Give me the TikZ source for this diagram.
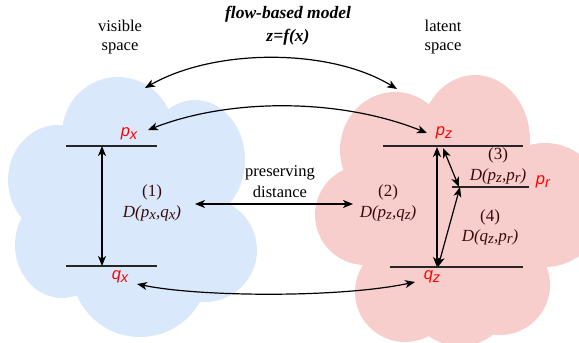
\documentclass[tikz,border=0pt]{standalone}
\usepackage{fontspec}
\setmainfont{Liberation Serif}
\newfontfamily\labsans{Liberation Sans}
\usetikzlibrary{arrows.meta}
\definecolor{cloudblue}{HTML}{DAE8FC}
\definecolor{cloudred}{HTML}{F8CECC}
\definecolor{labred}{HTML}{FF0000}
\definecolor{dred}{HTML}{3A0A0A}
\newcommand{\sbx}[1]{\raisebox{-0.3ex}{\scalebox{0.88}{#1}}}
\tikzset{
  txt/.style={inner sep=0pt, font=\fontsize{16.5}{19}\selectfont},
  ttl/.style={inner sep=0pt, font=\bfseries\itshape\fontsize{17.5}{20}\selectfont},
  ptlab/.style={inner sep=0pt, text=labred, font=\labsans\itshape\fontsize{16.5}{19}\selectfont},
  dlab/.style={inner sep=0pt, text=dred, font=\itshape\fontsize{17}{19}\selectfont},
  numlab/.style={inner sep=0pt, text=dred, font=\fontsize{17}{19}\selectfont},
  level/.style={line width=1.2pt, draw=black!85},
  arr/.style={line width=1.2pt, {Stealth[length=10pt,width=8pt,inset=2.8pt]}-{Stealth[length=10pt,width=8pt,inset=2.8pt]}},
}
\begin{document}
\begin{tikzpicture}[x=1pt,y=-1pt]
\useasboundingbox (0,0) rectangle (579,343);
\begin{scope}
\clip (0,0) rectangle (579,343);
% blue cloud
\fill[cloudblue] (118,134) ellipse [x radius=56, y radius=57];
\fill[cloudblue] (58,180) ellipse [x radius=50, y radius=55];
\fill[cloudblue] (62,245) ellipse [x radius=47, y radius=53];
\fill[cloudblue] (140,270) ellipse [x radius=68, y radius=67];
\fill[cloudblue] (195,160) ellipse [x radius=50, y radius=60];
\fill[cloudblue] (205,250) ellipse [x radius=52, y radius=52];
\fill[cloudblue] (130,205) ellipse [x radius=100, y radius=85];
% red cloud
\fill[cloudred] (395,150) ellipse [x radius=55, y radius=58];
\fill[cloudred] (475,140) ellipse [x radius=55, y radius=65];
\fill[cloudred] (545,205) ellipse [x radius=60, y radius=62];
\fill[cloudred] (365,215) ellipse [x radius=50, y radius=50];
\fill[cloudred] (405,292) ellipse [x radius=50, y radius=50];
\fill[cloudred] (460,290) ellipse [x radius=55, y radius=56];
\fill[cloudred] (500,285) ellipse [x radius=50, y radius=50];
\fill[cloudred] (450,220) ellipse [x radius=100, y radius=80];
\end{scope}

% titles
\node[txt] (vis1) at (120,26) {visible};
\node[txt] (vis2) at (120,48) {space};
\node[txt] (lat1) at (443,26) {latent};
\node[txt] (lat2) at (443,48) {space};
\node[ttl] (fbm) at (288,14) {flow-based model};
\node[ttl] (zfx) at (288,37) {z=f(x)};

% left levels
\coordinate (lxa) at (66,146);
\coordinate (lxb) at (157,146);
\coordinate (lqa) at (66,266);
\coordinate (lqb) at (157,266);
\draw[level] (lxa) -- (lxb);
\draw[level] (lqa) -- (lqb);
\coordinate (lvt) at (102,146);
\coordinate (lvb) at (102,266);
\draw[arr] (lvt) -- (lvb);

\node[ptlab] (px) at (129,134) {p\sbx{x}};
\node[ptlab] (qx) at (120,277) {q\sbx{x}};
\node[numlab] (n1) at (152,192) {(1)};
\node[dlab] (d1) at (152,213) {D(p\sbx{x},q\sbx{x})};

% right levels
\coordinate (rza) at (383,146);
\coordinate (rzb) at (523,146);
\coordinate (rqa) at (390,267);
\coordinate (rqb) at (523,267);
\coordinate (rra) at (452,187);
\coordinate (rrb) at (529,187);
\draw[level] (rza) -- (rzb);
\draw[level] (rqa) -- (rqb);
\draw[level] (rra) -- (rrb);

\node[ptlab] (pz) at (444,133) {p\sbx{z}};
\node[ptlab] (qz) at (432,277) {q\sbx{z}};
\node[ptlab] (pr) at (543,182) {p\sbx{r}};

\coordinate (rvt) at (437,147);
\coordinate (rvb) at (437,267);
\draw[arr] (rvt) -- (rvb);
\coordinate (d3t) at (443,148);
\coordinate (d3b) at (459,187);
\draw[arr] (d3t) -- (d3b);
\coordinate (d4b) at (438,267);
\coordinate (d4t) at (460,187);
\draw[arr] (d4b) -- (d4t);

\node[numlab] (n2) at (388,192) {(2)};
\node[dlab] (d2) at (388,213) {D(p\sbx{z},q\sbx{z})};
\node[numlab] (n3) at (498,155) {(3)};
\node[dlab] (d3) at (498,176) {D(p\sbx{z},p\sbx{r})};
\node[numlab] (n4) at (490,217) {(4)};
\node[dlab] (d4) at (490,237) {D(q\sbx{z},p\sbx{r})};

% preserving distance
\node[txt] (pres) at (280,173) {preserving};
\node[txt] (dist) at (280,192) {distance};
\coordinate (hl) at (195,204);
\coordinate (hr) at (353,204);
\draw[arr] (hl) -- (hr);

% curved arrows
\coordinate (c1l) at (145,88);
\coordinate (c1r) at (397,89);
\draw[arr] (c1l) .. controls (215,48) and (330,48) .. (c1r);
\coordinate (c2l) at (148,130);
\coordinate (c2r) at (427,133);
\draw[arr] (c2l) .. controls (230,98) and (340,98) .. (c2r);
\coordinate (c3l) at (137,284);
\coordinate (c3r) at (415,282);
\draw[arr] (c3l) .. controls (200,297) and (340,298) .. (c3r);
\end{tikzpicture}
\end{document}
